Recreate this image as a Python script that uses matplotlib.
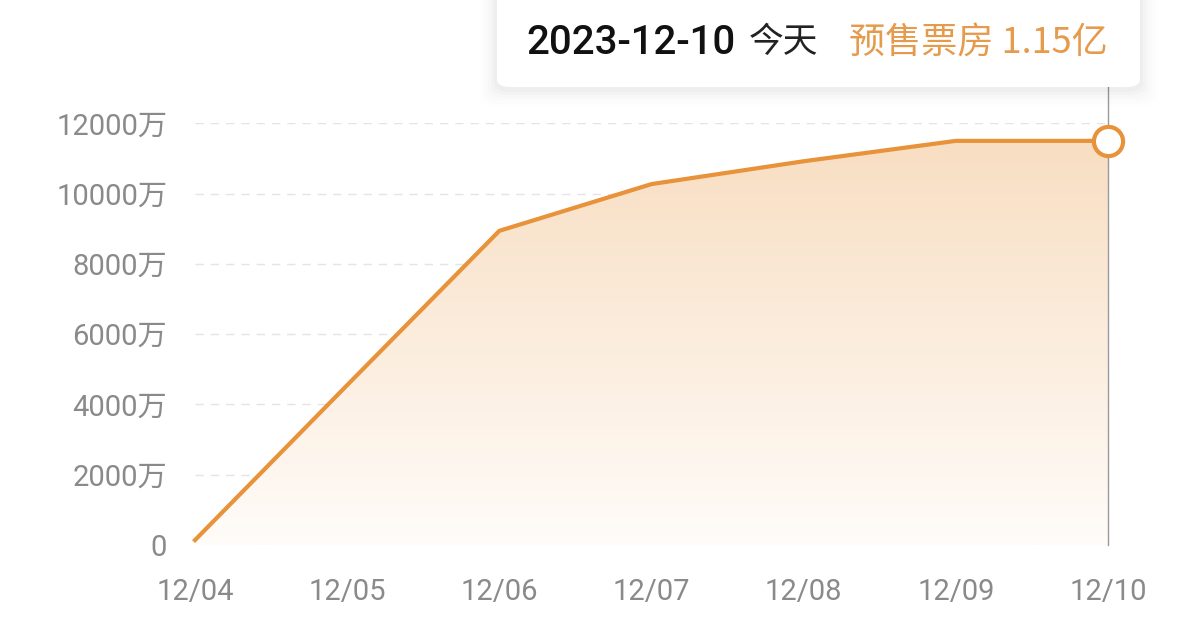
import matplotlib
matplotlib.use("Agg")
import matplotlib.pyplot as plt
import numpy as np
from matplotlib.patches import FancyBboxPatch
from matplotlib.colors import LinearSegmentedColormap

dates = ['12/04', '12/05', '12/06', '12/07', '12/08', '12/09', '12/10']
values = [140, 4550, 8940, 10270, 10920, 11500, 11500]
yticks = [0, 2000, 4000, 6000, 8000, 10000, 12000]
ytick_labels = ['0', '2000万', '4000万', '6000万', '8000万', '10000万', '12000万']
tip_date = '2023-12-10'
tip_day = '今天'
tip_label = '预售票房 1.15亿'

plt.rcParams['font.family'] = ['Roboto', 'Noto Sans CJK SC', 'DejaVu Sans']

W, H = 1179, 623
fig = plt.figure(figsize=(W / 100, H / 100), dpi=100)
fig.patch.set_facecolor('white')

def fx(px):
    return px / W

def fy(py):
    return 1 - py / H

ax = fig.add_axes([fx(195), fy(545), fx(1108) - fx(195), fy(123.3) - fy(545)])
x = np.arange(len(dates))
orange = '#E8923A'

ax.set_xlim(0, len(dates) - 1)
ax.set_ylim(0, 12000)

# gridlines
for t in yticks[1:]:
    ax.axhline(t, color='#e4e4e4', lw=1.0, ls=(0, (6, 5)), zorder=0)
ax.axhline(0, color='#ececec', lw=1.2, zorder=0)

# gradient fill
poly = ax.fill_between(x, values, 0, color='none', lw=0)
cmap = LinearSegmentedColormap.from_list('g', ['#FFFCF9', '#F8DEC2'])
grad = np.linspace(0, 1, 256).reshape(-1, 1)
im = ax.imshow(grad, cmap=cmap, aspect='auto', origin='lower',
               extent=[0, len(dates) - 1, 0, max(values)], zorder=1)
im.set_clip_path(poly.get_paths()[0], transform=ax.transData)

ax.plot(x, values, color=orange, lw=3.0, zorder=3, solid_joinstyle='round', clip_on=False)

# vertical indicator line
ax.plot([x[-1], x[-1]], [0, 13250], color='#9a9a9a', lw=1.0, zorder=2, clip_on=False)

ax.plot([x[-1]], [values[-1]], marker='o', ms=21, mfc='white', mec=orange, mew=3.0,
        zorder=5, clip_on=False)

ax.set_xticks(x)
ax.set_xticklabels(dates)
ax.set_yticks(yticks)
ax.set_yticklabels(ytick_labels)
ax.tick_params(axis='both', length=0, labelsize=21, labelcolor='#8a8a8a')
ax.tick_params(axis='x', pad=24)
ax.tick_params(axis='y', pad=20)
for s in ax.spines.values():
    s.set_visible(False)
ax.set_facecolor('none')

# tooltip box with shadow
for i, a in enumerate([0.02, 0.016, 0.012, 0.009, 0.007, 0.005]):
    g = (i + 1) * 3
    sh = FancyBboxPatch((fx(497 - g), fy(87 + g + 2)), fx(1140 + g) - fx(497 - g),
                        fy(-20) - fy(87 + g + 2),
                        boxstyle='round,pad=0,rounding_size=0.015',
                        transform=fig.transFigure, facecolor='#000000', alpha=a,
                        edgecolor='none', zorder=8)
    fig.add_artist(sh)
box = FancyBboxPatch((fx(497), fy(87)), fx(1140) - fx(497), fy(-20) - fy(87),
                     boxstyle='round,pad=0,rounding_size=0.012',
                     transform=fig.transFigure, facecolor='white', edgecolor='none', zorder=9)
fig.add_artist(box)

fig.text(fx(526), fy(43), tip_date, fontsize=29, color='#111111', va='center', ha='left',
         fontweight='medium', zorder=10, family=['Roboto', 'Noto Sans CJK SC'])
fig.text(fx(749), fy(43), tip_day, fontsize=25, color='#222222', va='center', ha='left',
         zorder=10, family=['Noto Sans CJK SC', 'DejaVu Sans'])
fig.text(fx(1108), fy(43), tip_label, fontsize=26, color='#E69A4C', va='center', ha='right',
         zorder=10, family=['Noto Sans CJK SC', 'DejaVu Sans'])

fig.savefig('out.png', dpi=100, facecolor='white')
